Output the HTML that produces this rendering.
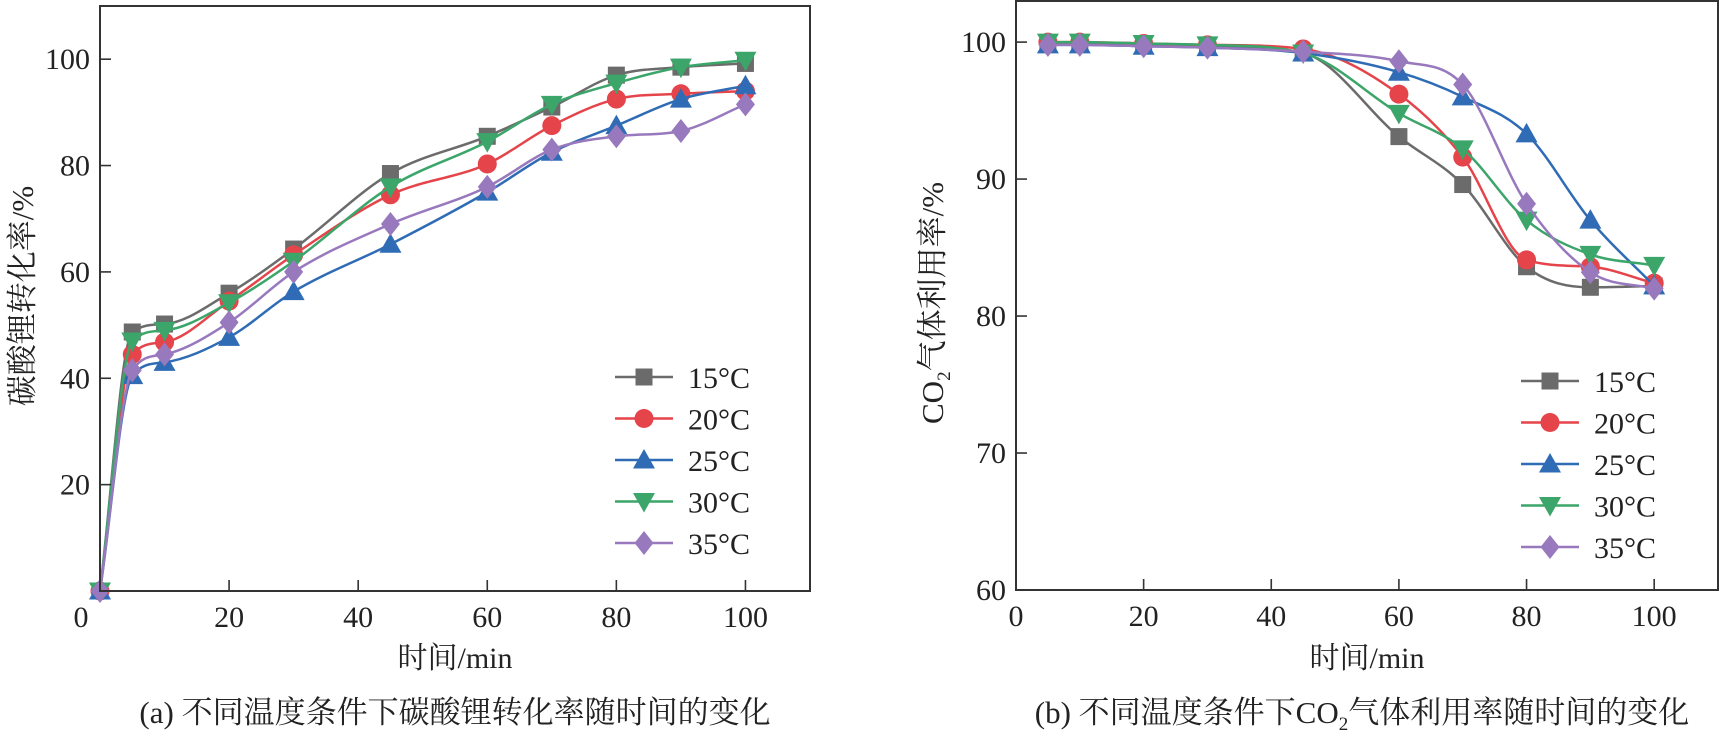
<!DOCTYPE html>
<html><head><meta charset="utf-8">
<style>
html,body{margin:0;padding:0;background:#fff;}
svg{display:block;}
text{font-family:"Liberation Serif","Noto Serif CJK SC",serif;fill:#222;}
</style></head>
<body>
<svg id="svg" width="1720" height="737" viewBox="0 0 1720 737"></svg>
<script>
const seriesNames = ["15°C","20°C","25°C","30°C","35°C"];
const colors = ["#6b6b6b","#e5444b","#2f6cb5","#3ca56a","#9879bd"];
const markers = ["square","circle","triangle","tri-down","diamond"];

const xA = [0,5,10,20,30,45,60,70,80,90,100];
const yA15 = [0,48.7,50.2,56,64.3,78.5,85.5,91,97,98.5,99.2];
const yA20 = [0,44.5,46.8,54.5,63.2,74.5,80.3,87.5,92.5,93.5,94];
const yA25 = [0,40.5,43,47.7,56.3,65.2,75,82.5,87.5,92.5,95];
const yA30 = [0,47,49,54.2,62,76,84.5,91.5,95.5,98.5,99.8];
const yA35 = [0,41.5,44.5,50.5,60,69,76,83,85.5,86.5,91.5];
const xTicksA = [0,20,40,60,80,100];
const yTicksA = [20,40,60,80,100];

const xB = [5,10,20,30,45,60,70,80,90,100];
const yB15 = [99.9,99.9,99.8,99.7,99.2,93.1,89.6,83.6,82.1,82.2];
const yB20 = [100,100,99.9,99.8,99.5,96.2,91.6,84.1,83.6,82.4];
const yB25 = [99.8,99.8,99.7,99.6,99.2,97.8,96,93.3,87,82.2];
const yB30 = [100,100,99.9,99.8,99.2,94.8,92.2,87,84.5,83.7];
const yB35 = [99.8,99.8,99.7,99.6,99.3,98.6,96.9,88.2,83.2,82];
const xTicksB = [0,20,40,60,80,100];
const yTicksB = [60,70,80,90,100];

const NS="http://www.w3.org/2000/svg";
const svg=document.getElementById('svg');
function mk(tag,attrs,parent){const e=document.createElementNS(NS,tag);for(const k in attrs)e.setAttribute(k,attrs[k]);(parent||svg).appendChild(e);return e;}

function monotonePath(pts){
  const n=pts.length; if(n<2) return "";
  const d=[],m=new Array(n);
  for(let i=0;i<n-1;i++) d.push((pts[i+1][1]-pts[i][1])/(pts[i+1][0]-pts[i][0]));
  m[0]=d[0]; m[n-1]=d[n-2];
  for(let i=1;i<n-1;i++){ if(d[i-1]*d[i]<=0) m[i]=0; else m[i]=(d[i-1]+d[i])/2; }
  for(let i=0;i<n-1;i++){ if(d[i]===0){m[i]=0;m[i+1]=0;continue;} const a=m[i]/d[i],b=m[i+1]/d[i],s=a*a+b*b; if(s>9){const t=3/Math.sqrt(s);m[i]=t*a*d[i];m[i+1]=t*b*d[i];} }
  let p="M"+pts[0][0]+","+pts[0][1];
  for(let i=0;i<n-1;i++){const h=(pts[i+1][0]-pts[i][0])/3;
    p+=" C"+(pts[i][0]+h)+","+(pts[i][1]+m[i]*h)+" "+(pts[i+1][0]-h)+","+(pts[i+1][1]-m[i+1]*h)+" "+pts[i+1][0]+","+pts[i+1][1];}
  return p;
}
function marker(g,type,x,y,c,s){
  s=s||10;
  if(type==="square") return mk('rect',{x:x-s*0.85,y:y-s*0.85,width:s*1.7,height:s*1.7,fill:c},g);
  if(type==="circle") return mk('circle',{cx:x,cy:y,r:s*0.95,fill:c},g);
  if(type==="triangle") return mk('polygon',{points:`${x},${y-s*1.1} ${x+s*1.1},${y+s*0.85} ${x-s*1.1},${y+s*0.85}`,fill:c},g);
  if(type==="tri-down") return mk('polygon',{points:`${x},${y+s*1.1} ${x+s*1.1},${y-s*0.85} ${x-s*1.1},${y-s*0.85}`,fill:c},g);
  return mk('polygon',{points:`${x},${y-s*1.2} ${x+s*0.95},${y} ${x},${y+s*1.2} ${x-s*0.95},${y}`,fill:c},g);
}

function chart(o){
  const g=mk('g',{});  
  const sx=v=>o.x0+(v-o.xmin)/(o.xmax-o.xmin)*(o.x1-o.x0);
  const sy=v=>o.y0-(v-o.ymin)/(o.ymax-o.ymin)*(o.y0-o.y1);
  o.ys.forEach((ys,si)=>{
    const sg=mk('g',{},g);
    
    
    const pts=o.xs.map((x,i)=>[sx(x),sy(ys[i])]);
    const p=mk('path',{d:monotonePath(pts),fill:'none',stroke:colors[si],'stroke-width':2.5},sg);
    
    
    pts.forEach(pt=>{const m=marker(sg,markers[si],pt[0],pt[1],colors[si]);
      
      });
  });
  const fr=mk('rect',{x:o.x0,y:o.y1,width:o.x1-o.x0,height:o.y0-o.y1,fill:'none',stroke:'#333','stroke-width':2},g);
  
  
  o.xt.forEach(t=>{const x=sx(t);
    if(t!==o.xmin) mk('line',{x1:x,x2:x,y1:o.y0,y2:o.y0-11,stroke:'#333','stroke-width':1.6},g);
    const tx=mk('text',{x:(t===0&&o.zeroOff)?x+o.zeroOff:x,y:o.y0+36,'font-size':30,'text-anchor':'middle'},g);
    tx.textContent=t;
    
    
  });
  o.yt.forEach(t=>{const y=sy(t);
    if(t!==o.ymin) mk('line',{x1:o.x0,x2:o.x0+11,y1:y,y2:y,stroke:'#333','stroke-width':1.6},g);
    const tx=mk('text',{x:o.x0-10,y:y+10,'font-size':30,'text-anchor':'end'},g);
    tx.textContent=t;
    
    
  });
  seriesNames.forEach((n,i)=>{
    const lg=mk('g',{},g);
    
    
    const y=o.legY+i*41.5;
    mk('line',{x1:o.legX,x2:o.legX+58,y1:y,y2:y,stroke:colors[i],'stroke-width':2.5},lg);
    marker(lg,markers[i],o.legX+29,y,colors[i]);
    const t=mk('text',{x:o.legX+73,y:y+11,'font-size':30},lg); t.textContent=n;
  });
  return g;
}

chart({name:'chart-a-conversion',x0:100,x1:810,y0:591,y1:6,xmin:0,xmax:110,ymin:0,ymax:110,
  xs:xA,ys:[yA15,yA20,yA25,yA30,yA35],xt:xTicksA,yt:yTicksA,legX:615,legY:377,zeroOff:-19});
chart({name:'chart-b-co2-utilization',x0:1016,x1:1718,y0:590,y1:1,xmin:0,xmax:110,ymin:60,ymax:103,
  xs:xB,ys:[yB15,yB20,yB25,yB30,yB35],xt:xTicksB,yt:yTicksB,legX:1521,legY:381,zeroOff:0});
</script>
<svg width="1720" height="737" style="position:absolute;left:0;top:0;">
  <text x="455" y="668" font-size="30" text-anchor="middle" style="font-family:'Liberation Serif','Noto Serif CJK SC',serif">时间/min</text>
  <text x="1367" y="668" font-size="30" text-anchor="middle" style="font-family:'Liberation Serif','Noto Serif CJK SC',serif">时间/min</text>
  <text transform="translate(33,296) rotate(-90)" font-size="31" text-anchor="middle" style="font-family:'Liberation Serif','Noto Serif CJK SC',serif">碳酸锂转化率/%</text>
  <text transform="translate(943,303) rotate(-90)" font-size="31" text-anchor="middle" style="font-family:'Liberation Serif','Noto Serif CJK SC',serif">CO<tspan font-size="19" dy="7">2</tspan><tspan dy="-7">气体利用率/%</tspan></text>
  <text x="455" y="723" font-size="31" text-anchor="middle" style="font-family:'Liberation Serif','Noto Serif CJK SC',serif">(a) 不同温度条件下碳酸锂转化率随时间的变化</text>
  <text x="1362" y="723" font-size="31" text-anchor="middle" style="font-family:'Liberation Serif','Noto Serif CJK SC',serif">(b) 不同温度条件下CO<tspan font-size="19" dy="7">2</tspan><tspan dy="-7">气体利用率随时间的变化</tspan></text>
</svg>
</body></html>
